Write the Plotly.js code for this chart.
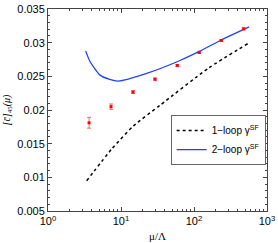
<!DOCTYPE html>
<html><head><meta charset="utf-8">
<script src="https://cdn.plot.ly/plotly-3.0.1.min.js"></script>
<style>html,body{margin:0;padding:0;background:#fff}#c{width:278px;height:243px}</style>
</head><body><div id="c"></div>
<script>
// data points (lattice)
const muData = [3.65, 7.3, 14.6, 29.2, 59, 118, 237, 480];
const cData = [0.0181, 0.0205, 0.02266, 0.02458, 0.02662, 0.02855, 0.03033, 0.03205];
const cErr = [0.0008, 0.0004, 0.0002, 0.00015, 0.00015, 0.00015, 0.00015, 0.00015];
// 1-loop curve
const mu1 = [3.39, 7.46, 14.7, 34.2, 157, 554];
const c1 = [0.0095, 0.0142, 0.0176, 0.0207, 0.0262, 0.0299];
// 2-loop curve
const mu2 = [3.28, 3.76, 5.16, 7, 9.19, 22.5, 64.3, 118, 237, 567];
const c2 = [0.02878, 0.0272, 0.02518, 0.02454, 0.02429, 0.02543, 0.02735, 0.0287, 0.0304, 0.03235];
const xTicks = [1, 10, 100, 1000];
const xTickText = ['10<sup>0</sup>', '10<sup>1</sup>', '10<sup>2</sup>', '10<sup>3</sup>'];
const yTicks = [0.005, 0.01, 0.015, 0.02, 0.025, 0.03, 0.035];
const yTickText = ['0.005', '0.01', '0.015', '0.02', '0.025', '0.03', '0.035'];

const traces = [
  {x: mu1, y: c1, mode: 'lines', name: '1\u2212loop \u03b3<sup>SF</sup>',
   line: {color: '#000', width: 1.5, dash: '3px,3px', shape: 'spline', smoothing: 0.6}},
  {x: mu2, y: c2, mode: 'lines', name: '2\u2212loop \u03b3<sup>SF</sup>',
   line: {color: '#2040ff', width: 1.3, shape: 'spline', smoothing: 0.6}},
  {x: muData, y: cData, mode: 'markers', showlegend: false,
   marker: {color: '#ff0000', size: 3, symbol: 'square'},
   error_y: {type: 'data', array: cErr, visible: true, color: '#ff4444', thickness: 0.8, width: 2}}
];
const axCommon = {showgrid: false, zeroline: false, showline: true, linecolor: '#444', linewidth: 1,
  mirror: 'allticks', ticks: 'inside', ticklen: 4, tickcolor: '#444',
  tickfont: {family: 'Liberation Sans, Arial, sans-serif', size: 11, color: '#000'}};
const layout = {
  width: 278, height: 243,
  margin: {l: 48, r: 11, t: 9, b: 32},
  paper_bgcolor: '#fff', plot_bgcolor: '#fff',
  showlegend: true,
  legend: {x: 0.56, y: 0.475, xanchor: 'left', yanchor: 'top', bgcolor: '#fff',
    bordercolor: '#666', borderwidth: 1,
    font: {family: 'Liberation Sans, Arial, sans-serif', size: 10, color: '#000'},
    tracegroupgap: 0, itemwidth: 30},
  xaxis: Object.assign({}, axCommon, {type: 'log', range: [0, 3], tickvals: xTicks, ticktext: xTickText,
    minor: {ticks: 'inside', ticklen: 2, tickcolor: '#444', dtick: 'D1'},
    title: {text: '\u03bc/\u039b', standoff: 6, font: {family: 'Liberation Serif, serif', size: 11, color: '#000'}}}),
  yaxis: Object.assign({}, axCommon, {range: [0.005, 0.035], tickvals: yTicks, ticktext: yTickText,
    minor: {ticks: 'inside', ticklen: 2, tickcolor: '#444', dtick: 0.001},
    title: {text: '<i>[c\u0304]</i><sub>45</sub><i>(\u03bc)</i>', standoff: 4, font: {family: 'Liberation Serif, serif', size: 10, color: '#000'}}})
};
Plotly.newPlot('c', traces, layout, {displayModeBar: false, staticPlot: true});
</script></body></html>
